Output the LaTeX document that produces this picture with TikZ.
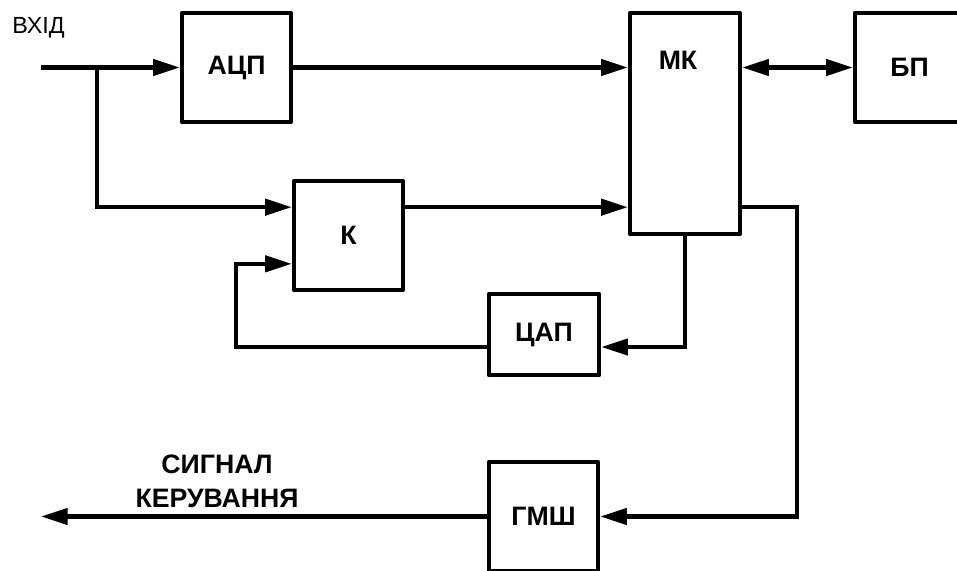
\documentclass[tikz,border=0pt]{standalone}
\usepackage{fontspec}
\setmainfont{Liberation Sans}
\usetikzlibrary{arrows.meta,calc}

\begin{document}
\begin{tikzpicture}[
    x=0.75pt, y=-0.75pt,
    every node/.style={font=\fontsize{17.5}{25}\selectfont, align=center},
    block/.style={draw, line width=3.2pt, line join=round, inner sep=0pt,
        minimum width=81.75pt, minimum height=81.75pt,
        font=\fontsize{20}{25}\selectfont\bfseries},
    title/.style={inner sep=0pt, font=\fontsize{20}{25}\selectfont\bfseries},
    wire/.style={line width=3.2pt},
    >={Triangle[length=20pt,width=12pt]}
]
\useasboundingbox (0,0) rectangle (957,571);

\node[block] (adc) at (236.5,67.5) {АЦП};
\node[block, minimum width=82.5pt, minimum height=165.75pt] (mk) at (685,123.5) {};
\node[title] (mktext) at (678,60) {МК};
\node[block] (bp) at (909.5,67.5) {БП};
\node[block] (k) at (348.5,235.5) {К};
\node[block, minimum width=82.5pt, minimum height=60.75pt] (dac) at (544,334.5) {ЦАП};
\node[block] (gmsh) at (543.5,516.5) {ГМШ};

\node[anchor=base west, inner sep=0pt] (vhid) at (12,33) {ВХІД};
\node[title, anchor=north] (signal) at (217,455) {СИГНАЛ\\КЕРУВАННЯ};

\coordinate (in) at (41,67.5);
\coordinate (split) at (97,67.5);
\coordinate (out) at (41,516.5);
\coordinate (kin1) at ($(k.north west)!.25!(k.south west)$);
\coordinate (kin2) at ($(k.north west)!.75!(k.south west)$);
\coordinate (kout) at ($(k.north east)!.25!(k.south east)$);
\coordinate (fb) at (236,347);
\coordinate (turn) at (797,207);

\draw[wire,->] (in) -- (adc.west);
\draw[wire,->] (split) |- (kin1);
\draw[wire,->] (adc.east) -- (adc.east -| mk.west);
\draw[wire,->] (kout) -- (kout -| mk.west);
\draw[wire,<->] (mk.east |- bp.west) -- (bp.west);
\draw[wire,->] (mk.south) |- (dac.east |- fb);
\draw[wire,->] (dac.west |- fb) -- (fb) |- (kin2);
\draw[wire,->] (mk.east |- turn) -- (turn) |- (gmsh.east);
\draw[wire,->] (gmsh.west) -- (out);
\end{tikzpicture}
\end{document}
